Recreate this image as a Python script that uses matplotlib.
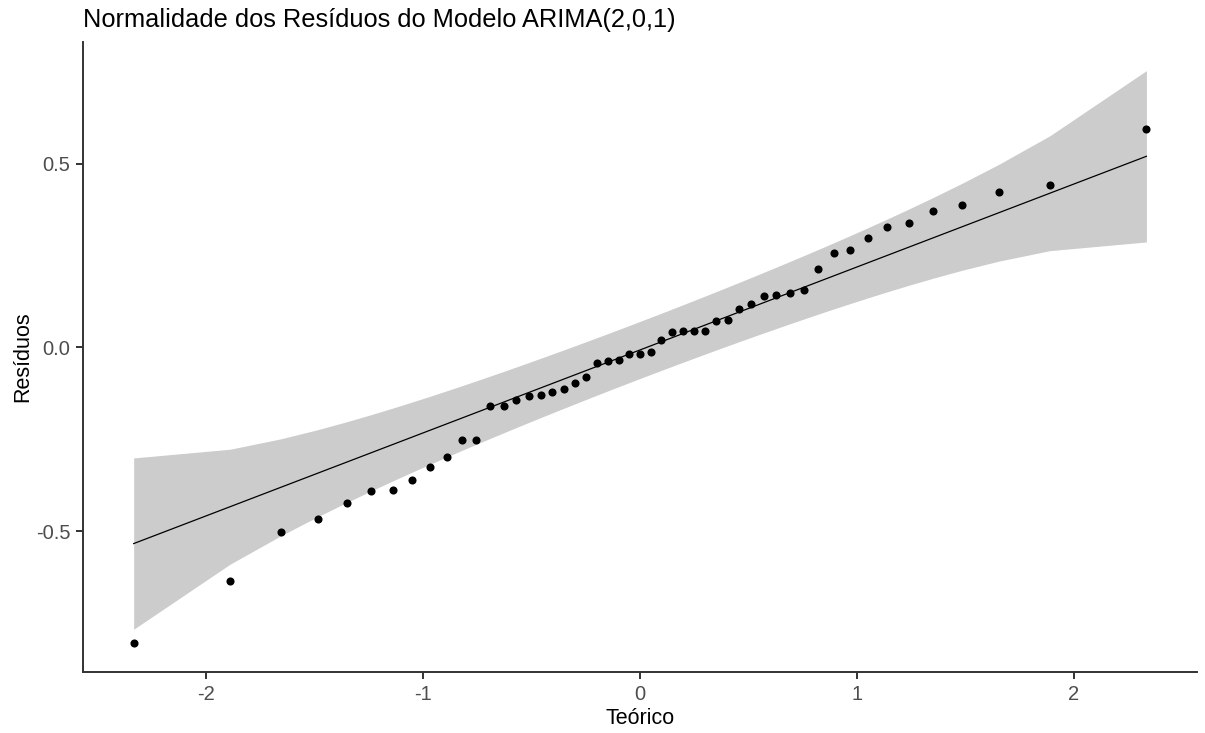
import numpy as np
import matplotlib.pyplot as plt
from statistics import NormalDist

# Resíduos do modelo ARIMA(2,0,1), ordenados
residuos = [
    -0.805, -0.634, -0.502, -0.466, -0.423, -0.391, -0.388, -0.360, -0.326, -0.298,
    -0.251, -0.251, -0.159, -0.159, -0.144, -0.133, -0.130, -0.120, -0.112, -0.098,
    -0.081, -0.043, -0.037, -0.034, -0.019, -0.019, -0.011, 0.020, 0.042, 0.044,
    0.045, 0.045, 0.073, 0.076, 0.105, 0.117, 0.139, 0.142, 0.149, 0.155,
    0.214, 0.256, 0.266, 0.298, 0.327, 0.338, 0.370, 0.388, 0.423, 0.441,
    0.595,
]
titulo = "Normalidade dos Resíduos do Modelo ARIMA(2,0,1)"
rotulo_x = "Teórico"
rotulo_y = "Resíduos"
nivel_conf = 0.95

y = np.sort(np.array(residuos))
n = len(y)
norm = NormalDist()

# quantis teóricos (ppoints)
p = (np.arange(1, n + 1) - 0.5) / n
x = np.array([norm.inv_cdf(v) for v in p])

# reta pelos quartis
q1, q3 = np.quantile(y, [0.25, 0.75])
z1, z3 = norm.inv_cdf(0.25), norm.inv_cdf(0.75)
inclinacao = (q3 - q1) / (z3 - z1)
intercepto = q1 - inclinacao * z1
ajuste = intercepto + inclinacao * x

# banda pontual
dens = np.array([norm.pdf(v) for v in x])
ep = inclinacao / dens * np.sqrt(p * (1 - p) / n)
zc = norm.inv_cdf(1 - (1 - nivel_conf) / 2)
inferior = ajuste - zc * ep
superior = ajuste + zc * ep

plt.rcParams["font.family"] = ["Liberation Sans", "DejaVu Sans"]

fig = plt.figure(figsize=(12.05, 7.33), dpi=100)
ax = fig.add_axes([0.0689, 0.0832, 0.9245, 0.8595])

ax.fill_between(x, inferior, superior, color="#CCCCCC", linewidth=0, zorder=1)
ax.plot(x, ajuste, color="black", linewidth=0.9, zorder=2)
ax.scatter(x, y, s=34, color="black", linewidths=0, zorder=3)

xr = x.max() - x.min()
ax.set_xlim(x.min() - 0.05 * xr, x.max() + 0.05 * xr)
ymin = min(y.min(), inferior.min())
ymax = max(y.max(), superior.max())
yr = ymax - ymin
ax.set_ylim(ymin - 0.05 * yr, ymax + 0.05 * yr)

ax.set_xticks([-2, -1, 0, 1, 2])
ax.set_xticklabels(["-2", "-1", "0", "1", "2"])
ax.set_yticks([-0.5, 0.0, 0.5])
ax.set_yticklabels(["-0.5", "0.0", "0.5"])

for s in ["top", "right"]:
    ax.spines[s].set_visible(False)
for s in ["left", "bottom"]:
    ax.spines[s].set_color("#333333")
    ax.spines[s].set_linewidth(1.4)
ax.tick_params(axis="both", colors="#333333", width=1.4, length=5,
               labelsize=14.5, labelcolor="#4D4D4D", pad=4)

ax.set_xlabel(rotulo_x, fontsize=15.5, color="black", labelpad=3)
ax.set_ylabel(rotulo_y, fontsize=15.5, color="black", labelpad=2)
ax.set_title(titulo, loc="left", fontsize=18.3, color="black", pad=11)

fig.savefig("out.png", dpi=100)
